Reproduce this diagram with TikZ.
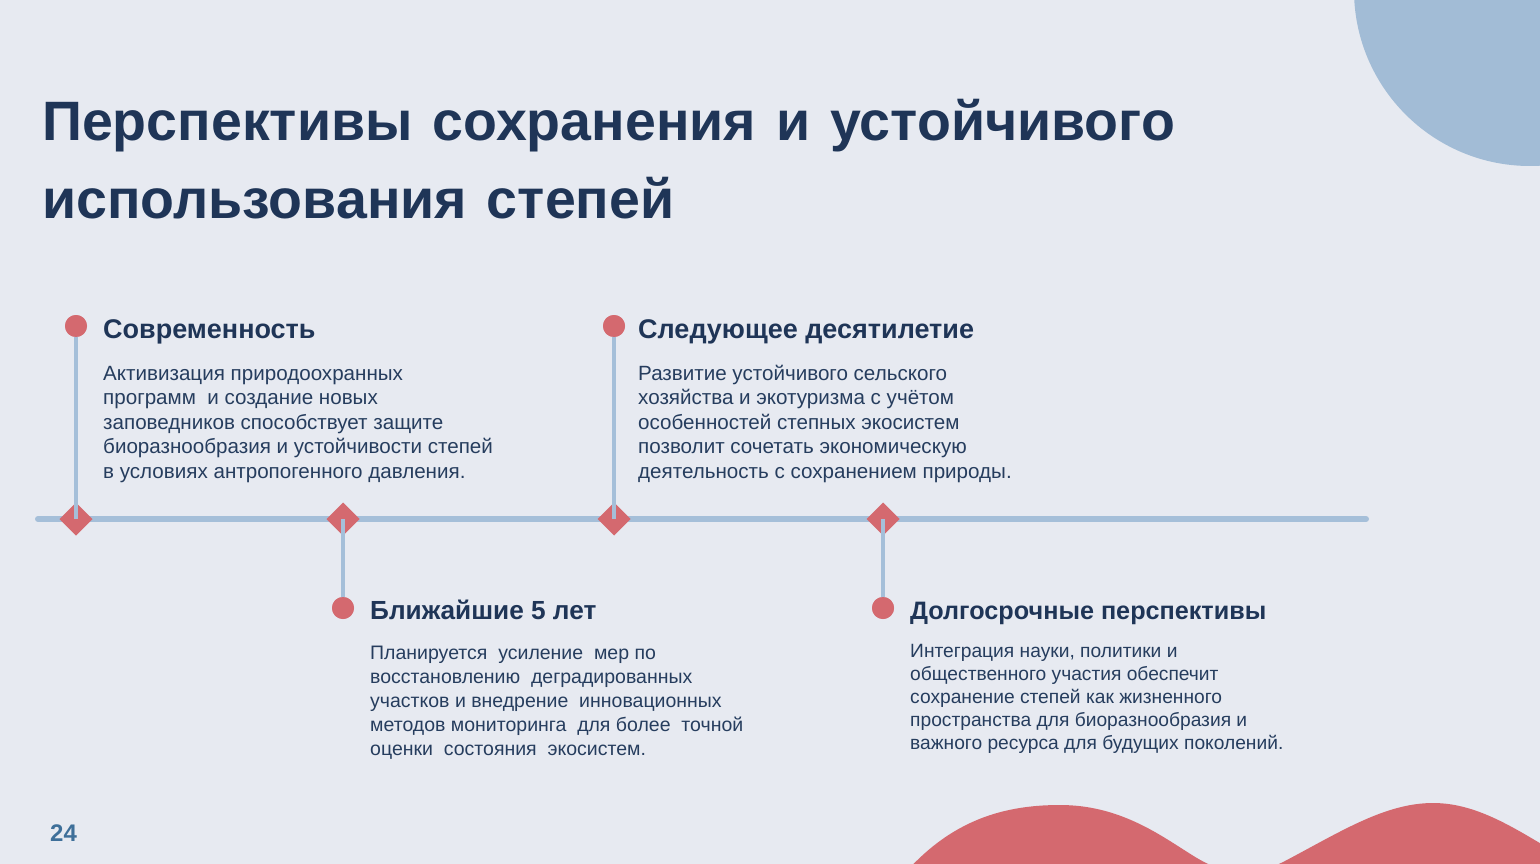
\documentclass[tikz,border=0pt]{standalone}
\usepackage{fontspec}
\setmainfont{Liberation Sans}
\usetikzlibrary{shapes.geometric}
\definecolor{bgcol}{HTML}{E7EAF1}
\definecolor{navy}{HTML}{1F3557}
\definecolor{bodycol}{HTML}{263D5E}
\definecolor{redcol}{HTML}{D4696F}
\definecolor{linecol}{HTML}{A5BFD9}
\definecolor{blobcol}{HTML}{A2BCD6}
\definecolor{numcol}{HTML}{3E6F99}
\newcommand\tsp{\hskip 20pt\relax}
\tikzset{
  diam/.style={diamond, fill=redcol, draw=none, minimum width=33pt, minimum height=33pt, inner sep=0pt, outer sep=0pt},
  dot/.style={circle, fill=redcol, draw=none, minimum size=22pt, inner sep=0pt},
  stem/.style={draw=linecol, line width=4pt},
  axisline/.style={draw=linecol, line width=6pt, line cap=round},
  heading/.style={anchor=base west, inner sep=0pt, text=navy, font=\fontsize{27}{32}\selectfont\bfseries},
  bodytext/.style={anchor=base west, inner sep=0pt, text=bodycol, font=\fontsize{20.6}{24.6}\selectfont},
  bodytextb/.style={anchor=base west, inner sep=0pt, text=bodycol, font=\fontsize{19.5}{24.1}\selectfont},
  bodytextc/.style={anchor=base west, inner sep=0pt, text=bodycol, font=\fontsize{19.2}{23.2}\selectfont},
}
\begin{document}
\begin{tikzpicture}[x=1pt,y=-1pt]
\useasboundingbox (0,0) rectangle (1540,864);
\fill[bgcol] (0,0) rectangle (1540,864);
\begin{scope}
\clip (0,0) rectangle (1540,864);
\fill[blobcol] (1530,-10) circle (176);
\fill[redcol] (895,885) .. controls (945,822) and (1000,805) .. (1060,805)
  .. controls (1120,805) and (1160,835) .. (1192,855)
  .. controls (1225,876) and (1252,878) .. (1285,861)
  .. controls (1340,832) and (1385,803) .. (1433,803)
  .. controls (1480,803) and (1520,832) .. (1565,858)
  -- (1565,900) -- (880,900) -- cycle;
\end{scope}
% title
\node[anchor=base west, inner sep=0pt, text=navy, font=\fontsize{55.5}{78}\selectfont\bfseries] (title) at (42,141)
  {\vtop{\hbox{Перспективы\tsp сохранения\tsp и\tsp устойчивого}\hbox{использования\tsp степей}}};
% timeline
\coordinate (L) at (38,519);
\coordinate (R) at (1366,519);
\draw[axisline] (L) -- (R);
\node[diam] (d1) at (76,519) {};
\node[diam] (d2) at (343,519) {};
\node[diam] (d3) at (614,519) {};
\node[diam] (d4) at (883,519) {};
\node[dot] (c1) at (76,326) {};
\node[dot] (c2) at (343,608) {};
\node[dot] (c3) at (614,326) {};
\node[dot] (c4) at (883,608) {};
\draw[stem] (d1.center) -- (c1.center);
\draw[stem] (d2.center) -- (c2.center);
\draw[stem] (d3.center) -- (c3.center);
\draw[stem] (d4.center) -- (c4.center);
\node[dot] at (c1) {};
\node[dot] at (c2) {};
\node[dot] at (c3) {};
\node[dot] at (c4) {};
% headings
\node[heading] (h1) at (103,338) {Современность};
\node[heading, font=\fontsize{26.2}{32}\selectfont\bfseries] (h2) at (370,619) {Ближайшие 5 лет};
\node[heading] (h3) at (638,338) {Следующее десятилетие};
\node[heading, font=\fontsize{25.2}{32}\selectfont\bfseries] (h4) at (910,619) {Долгосрочные перспективы};
% bodies
\node[bodytext] (b1) at (103,380) {\vtop{%
\hbox{Активизация природоохранных}%
\hbox{программ\ \ и создание новых}%
\hbox{заповедников способствует защите}%
\hbox{биоразнообразия и устойчивости степей}%
\hbox{в условиях антропогенного давления.}}};
\node[bodytext] (b3) at (638,380) {\vtop{%
\hbox{Развитие устойчивого сельского}%
\hbox{хозяйства и экотуризма с учётом}%
\hbox{особенностей степных экосистем}%
\hbox{позволит сочетать экономическую}%
\hbox{деятельность с сохранением природы.}}};
\node[bodytextb] (b2) at (370,659) {\vtop{%
\hbox{Планируется\ \ усиление\ \ мер по}%
\hbox{восстановлению\ \ деградированных}%
\hbox{участков и внедрение\ \ инновационных}%
\hbox{методов мониторинга\ \ для более\ \ точной}%
\hbox{оценки\ \ состояния\ \ экосистем.}}};
\node[bodytextc] (b4) at (910,657) {\vtop{%
\hbox{Интеграция науки, политики и}%
\hbox{общественного участия обеспечит}%
\hbox{сохранение степей как жизненного}%
\hbox{пространства для биоразнообразия и}%
\hbox{важного ресурса для будущих поколений.}}};
% page number
\node[anchor=base west, inner sep=0pt, text=numcol, font=\fontsize{24}{28}\selectfont\bfseries] (pg) at (50,841) {24};
\end{tikzpicture}
\end{document}
